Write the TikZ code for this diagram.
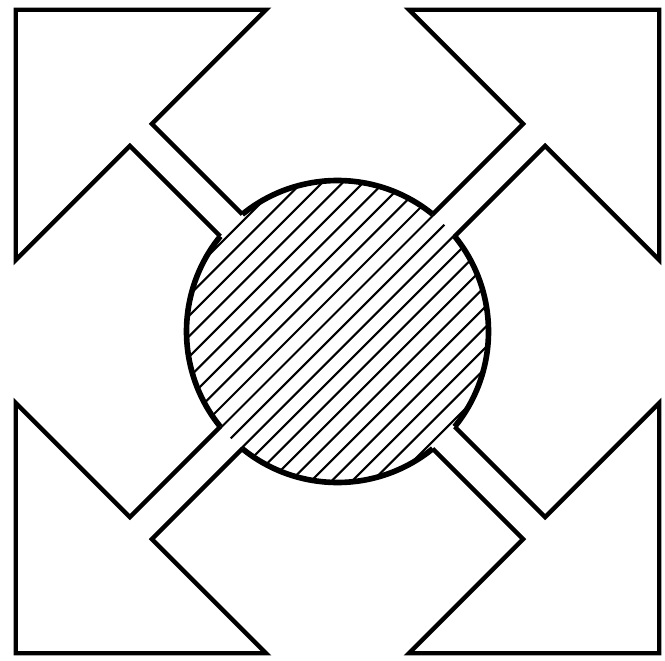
\documentclass[tikz,border=0pt]{standalone}
\usepackage{tikz}
\tikzset{
    arrowline/.style={
        draw=black,
        line width=2.5pt,
        line join=miter
    },
    rim/.style={
        draw=black,
        line width=3.2pt
    },
    hatchline/.style={
        draw=black,
        line width=1.2pt
    }
}

\begin{document}
\begin{tikzpicture}[x=0.02cm, y=0.02cm]
    \useasboundingbox (0,0) rectangle (665,660);
    \coordinate (c) at (337.5,328.5);

    % hatched disc
    \begin{scope}
        \clip (c) circle[radius=151];
        \foreach \k in {-10,...,10} {
            \draw[hatchline, shift={(c)}, rotate=45]
                (-160,\k*14.5) -- (160,\k*14.5);
        }
    \end{scope}

    % rim, open where the shafts leave
    \foreach \a in {45,135,225,315} {
        \draw[rim] (c) ++(\a+5.9:151) arc[start angle=\a+5.9, end angle=\a+84.1, radius=151];
    }

    % four arrows towards the corners
    \foreach \a in {45,135,225,315} {
        \draw[arrowline, shift={(c)}, rotate=\a]
            (150.2,15.5) -- (278,15.5) -- (278,177) -- (455,0)
            -- (278,-177) -- (278,-15.5) -- (150.2,-15.5);
    }
\end{tikzpicture}
\end{document}
